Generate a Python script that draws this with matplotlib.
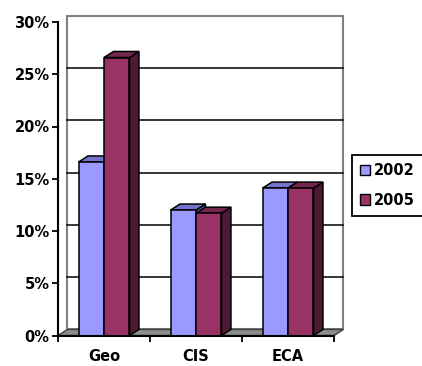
import matplotlib.pyplot as plt
from matplotlib.patches import Polygon, Patch
from matplotlib.ticker import PercentFormatter, FixedLocator

plt.rcParams['font.family'] = 'DejaVu Sans'
plt.rcParams['font.weight'] = 'bold'

categories = ['Geo', 'CIS', 'ECA']
years = ['2002', '2005']
share_2002 = [0.166, 0.120, 0.141]
share_2005 = [0.266, 0.117, 0.141]

front_colors = ['#9999FF', '#993366']
top_colors = ['#7373CC', '#732650']
side_colors = ['#6060A8', '#4D1A33']

# fake 3d depth, in data units
dx = 0.103
dy = 0.0058
bar_w = 0.277

fig = plt.figure(figsize=(4.22, 3.66), dpi=100)
ax = fig.add_axes([58 / 422, 30.5 / 366, 276 / 422, 313.5 / 366])
ax.set_xlim(0, 3)
ax.set_ylim(0, 0.3)

# back wall + gridlines
wall = Polygon([(dx, dy), (3 + dx, dy), (3 + dx, 0.3 + dy), (dx, 0.3 + dy)],
               closed=True, facecolor='white', edgecolor='#808080', lw=1.5,
               clip_on=False, zorder=0.5)
ax.add_patch(wall)
for v in [0.05, 0.10, 0.15, 0.20, 0.25]:
    ax.plot([dx, 3 + dx], [v + dy, v + dy], color='black', lw=1.1,
            clip_on=False, zorder=1)

# floor
floor = Polygon([(0, 0), (3, 0), (3 + dx, dy), (dx, dy)], closed=True,
                facecolor='#8c8c8c', edgecolor='#404040', lw=1.0,
                clip_on=False, zorder=1.5)
ax.add_patch(floor)

centers = [i + 0.5 for i in range(len(categories))]
for s, vals in enumerate([share_2002, share_2005]):
    xs = [c + (s - 0.5) * bar_w for c in centers]
    bars = ax.bar(xs, vals, bar_w, color=front_colors[s], edgecolor='black',
                  lw=1.1, zorder=3 + s + 0.2)
    for x, v in zip(xs, vals):
        x0, x1 = x - bar_w / 2, x + bar_w / 2
        side = Polygon([(x1, 0), (x1 + dx, dy), (x1 + dx, v + dy), (x1, v)],
                       closed=True, facecolor=side_colors[s], edgecolor='black',
                       lw=1.1, zorder=3 + s, clip_on=False)
        top = Polygon([(x0, v), (x1, v), (x1 + dx, v + dy), (x0 + dx, v + dy)],
                      closed=True, facecolor=top_colors[s], edgecolor='black',
                      lw=1.1, zorder=3 + s + 0.1, clip_on=False)
        ax.add_patch(side)
        ax.add_patch(top)

for sp in ['top', 'right']:
    ax.spines[sp].set_visible(False)
for sp in ['left', 'bottom']:
    ax.spines[sp].set_linewidth(1.5)
    ax.spines[sp].set_zorder(6)

ax.set_yticks([0, 0.05, 0.10, 0.15, 0.20, 0.25, 0.30])
ax.yaxis.set_major_formatter(PercentFormatter(1.0, decimals=0))
ax.tick_params(axis='y', direction='out', length=4, width=1.3, pad=2,
               labelsize=10.5)

ax.set_xticks(centers)
ax.set_xticklabels(categories)
ax.xaxis.set_minor_locator(FixedLocator([0, 1, 2, 3]))
ax.tick_params(axis='x', which='major', length=0, pad=10, labelsize=10.5)
ax.tick_params(axis='x', which='minor', direction='out', length=4, width=1.3)

handles = [Patch(facecolor=front_colors[i], edgecolor='black', lw=1.0)
           for i in range(len(years))]
leg = fig.legend(handles, years, loc='upper left',
                 bbox_to_anchor=(352 / 422, 1 - 155 / 366),
                 fancybox=False, edgecolor='black', framealpha=1,
                 handlelength=0.7, handleheight=0.7, handletextpad=0.25,
                 borderpad=0.55, labelspacing=1.0, borderaxespad=0,
                 prop={'size': 10.5, 'weight': 'bold'})
leg.get_frame().set_linewidth(1.3)

fig.savefig('out.png', dpi=100)
